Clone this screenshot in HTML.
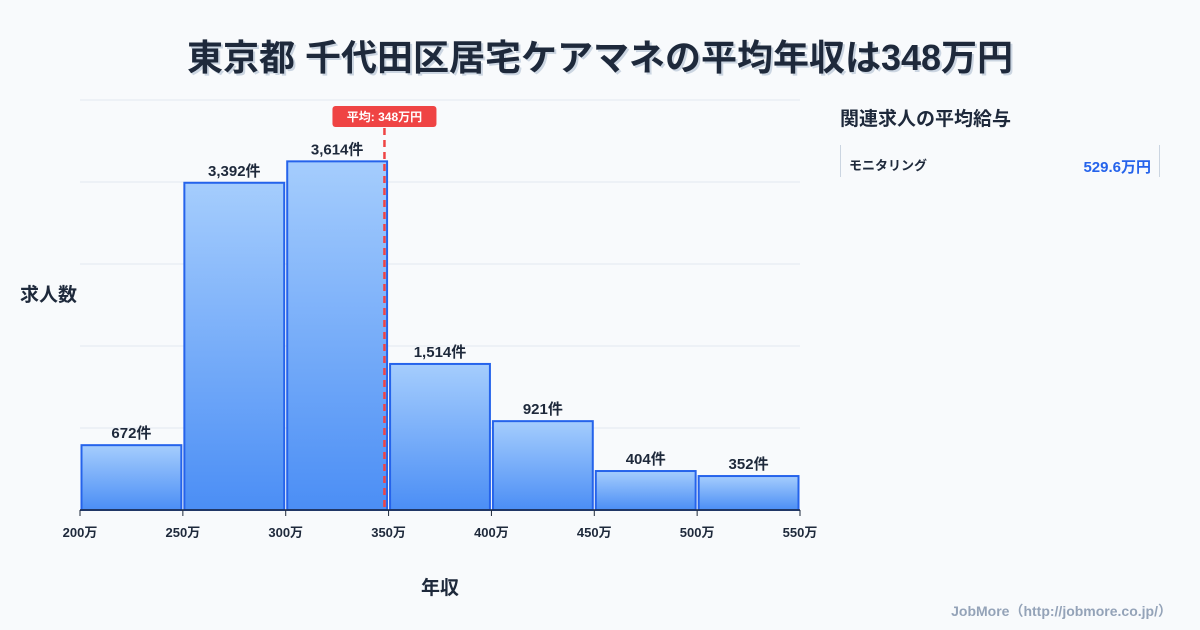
<!DOCTYPE html>
<html><head><meta charset="utf-8"><style>
body{margin:0;width:1200px;height:630px;background:#f8fafc;font-family:"Liberation Sans","Noto Sans CJK JP",sans-serif;overflow:hidden;position:relative}
.t{position:absolute}
</style></head><body>
<div class="t" style="left:0;width:1200px;top:29px;text-align:center;font-size:36px;font-weight:700;color:#1e293b;text-shadow:2px 2px 0 #cbd5e1">東京都 千代田区居宅ケアマネの平均年収は348万円</div>
<svg class="t" style="left:0;top:0" width="1200" height="630" id="chart"></svg>
<div class="t" style="left:20px;top:280px;font-size:19px;font-weight:700;color:#1e293b">求人数</div>
<div class="t" style="left:400px;width:80px;text-align:center;top:573px;font-size:19px;font-weight:700;color:#1e293b">年収</div>
<div class="t" style="left:840px;top:104px;font-size:19px;font-weight:700;color:#1e293b">関連求人の平均給与</div>
<div class="t" style="left:840px;top:145px;width:320px;height:32px;border-left:1px solid #cbd5e1;border-right:1px solid #cbd5e1;box-sizing:border-box">
<span class="t" style="left:8px;top:10px;font-size:13px;font-weight:700;color:#1e293b">モニタリング</span>
<span class="t" style="right:8px;top:11px;font-size:15px;font-weight:700;color:#2563eb">529.6万円</span></div>
<div class="t" style="right:28px;top:601px;font-size:14px;font-weight:700;color:#94a3b8">JobMore（http://jobmore.co.jp/）</div>
<script>
const binStarts=[200,250,300,350,400,450,500];
const counts=[672,3392,3614,1514,921,404,352];
const tickLabels=[200,250,300,350,400,450,500,550];
const meanValue=348;
const yMax=4250, gridStep=850;
const svg=document.getElementById('chart');const NS='http://www.w3.org/2000/svg';
const X=v=>80+(v-200)/350*720;const Y=v=>510-v/yMax*410;
function mk(t,a,p){const e=document.createElementNS(NS,t);for(const k in a)e.setAttribute(k,a[k]);(p||svg).appendChild(e);return e;}
const defs=mk('defs',{});const g=mk('linearGradient',{id:'gr',x1:0,y1:0,x2:0,y2:1},defs);
mk('stop',{offset:0,'stop-color':'#a5cdfd'},g);mk('stop',{offset:1,'stop-color':'#4b8ef5'},g);
for(let v=gridStep;v<=yMax;v+=gridStep){const l=mk('line',{x1:80,x2:800,y1:Y(v),y2:Y(v),stroke:'#e2e8f0'});

}
counts.forEach((c,i)=>{const x0=X(binStarts[i])+1.5,x1=X(binStarts[i]+50)-1.5;
const r=mk('rect',{x:x0,y:Y(c),width:x1-x0,height:510-Y(c),fill:'url(#gr)',stroke:'#2563eb','stroke-width':2});


const t=mk('text',{x:(x0+x1)/2,y:Y(c)-7,'text-anchor':'middle','font-size':15,'font-weight':700,fill:'#1e293b'});t.textContent=c.toLocaleString()+'件';

});
const ax=mk('line',{x1:80,x2:800,y1:510,y2:510,stroke:'#1e293b','stroke-width':1.5});


tickLabels.forEach(v=>{mk('line',{x1:X(v),x2:X(v),y1:510,y2:516,stroke:'#1e293b'});
const t=mk('text',{x:X(v),y:537,'text-anchor':'middle','font-size':13,'font-weight':700,fill:'#1e293b'});t.textContent=v+'万';

});
const mx=X(meanValue);
const ml=mk('line',{x1:mx,x2:mx,y1:128,y2:510,stroke:'#ef4444','stroke-width':2.5,'stroke-dasharray':'7,5'});


const mb=mk('rect',{x:mx-52,y:106,width:104,height:21,rx:3,fill:'#ef4444'});


const mt=mk('text',{x:mx,y:121,'text-anchor':'middle','font-size':12,'font-weight':700,fill:'#fff'});mt.textContent='平均: '+meanValue+'万円';


</script>
</body></html>
